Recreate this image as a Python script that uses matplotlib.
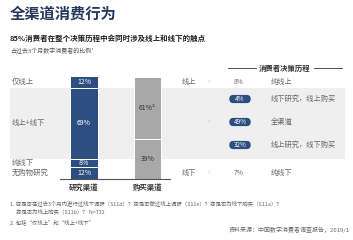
import matplotlib
matplotlib.use('Agg')
import matplotlib.pyplot as plt
from matplotlib.patches import Rectangle, FancyBboxPatch
from matplotlib.transforms import blended_transform_factory

plt.rcParams['font.family'] = ['Noto Sans CJK SC', 'DejaVu Sans']

# 研究渠道 (从下到上)
research_labels = ['无购物研究', '纯线下', '线上+线下', '仅线上']
research_values = [12, 8, 69, 12]
# 购买渠道 (从下到上)
purchase_values = [39, 61]
purchase_texts = ['39%', '61%²']
bar_names = ['研究渠道', '购买渠道']

# 消费者决策历程
journey_labels = ['纯线上', '线下研究，线上购买', '全渠道', '线上研究，线下购买', '纯线下']
journey_values = [8, 4, 49, 32, 7]

blue = '#2c4e80'
grey = '#a8a8a8'
band = '#efefef'
txt = '#666666'
dark = '#333333'

fig = plt.figure(figsize=(3.53, 2.40), dpi=100)
W, H = 353, 240

# overlay in pixel coords
ov = fig.add_axes([0, 0, 1, 1], zorder=0)
ov.set_xlim(0, W)
ov.set_ylim(H, 0)
ov.axis('off')

# bar axes: pixel x 60..170, y 76..179
ax = fig.add_axes([60 / W, (H - 179) / H, 110 / W, 103 / H], zorder=1)
ax.set_facecolor('none')
ax.set_xlim(-0.378, 1.354)
ax.set_ylim(0, sum(research_values))
for s in ['top', 'right', 'left']:
    ax.spines[s].set_visible(False)
ax.spines['bottom'].set_color('#555555')
ax.spines['bottom'].set_linewidth(0.8)
ax.set_yticks([])
ax.set_xticks([0, 1])
ax.set_xticklabels(bar_names, fontsize=5.3, fontweight='bold', color=dark)
ax.tick_params(axis='x', length=0, pad=3)

bw = 0.44
bottom = 0
for lab, v in zip(research_labels, research_values):
    ax.bar(0, v, bw, bottom=bottom, color=blue, edgecolor='white', linewidth=0.7)
    ax.text(0, bottom + v / 2, f'{v}%', ha='center', va='center', color='white', fontsize=5)
    bottom += v
bottom = 0
for v, t in zip(purchase_values, purchase_texts):
    ax.bar(1, v, bw, bottom=bottom, color=grey, edgecolor='white', linewidth=0.7)
    ax.text(1, bottom + v / 2, t, ha='center', va='center', color='#333333', fontsize=5)
    bottom += v

# grey band behind the 线上+线下 segment
tr = blended_transform_factory(ov.transData, ax.transData)
lo = research_values[0] + research_values[1]
hi = lo + research_values[2]
ov.add_patch(Rectangle((10, lo), 335, hi - lo, transform=tr, color=band, lw=0, zorder=0))

# left labels at segment centres
cum = 0
for lab, v in zip(research_labels, research_values):
    ov.text(12, cum + v / 2, lab, transform=tr, ha='left', va='center', fontsize=5.3, color=txt)
    cum += v

# title block
ov.text(10, 14, '全渠道消费行为', fontsize=11, fontweight='bold', color='#24395c', va='center')
ov.text(10, 38, '85%消费者在整个决策历程中会同时涉及线上和线下的触点', fontsize=5.4,
        fontweight='bold', color='#222222', va='center')
ov.text(10, 51, '占过去3个月数字消费者的比例¹', fontsize=4.3, color='#555555',
        va='center', style='italic')

# header of the journey panel
ov.text(285, 68, '消费者决策历程', fontsize=5.3, fontweight='bold', color=dark,
        ha='center', va='center')
ov.plot([228, 256], [68, 68], color=dark, lw=0.6)
ov.plot([314, 342], [68, 68], color=dark, lw=0.6)

row_y = [82, 99, 122, 145, 173]
pill_rows = [1, 2, 3]
for i, (lab, v) in enumerate(zip(journey_labels, journey_values)):
    y = row_y[i]
    if i in pill_rows:
        ov.add_patch(FancyBboxPatch((230, y - 3.4), 20, 6.8,
                                    boxstyle='round,pad=0.7,rounding_size=4',
                                    fc=blue, ec='none', zorder=3))
        ov.text(240, y, f'{v}%', ha='center', va='center', color='white', fontsize=4.6, zorder=4)
    else:
        ov.text(239, y, f'{v}%', ha='center', va='center', color=txt, fontsize=4.8)
    ov.text(271, y, lab, ha='left', va='center', fontsize=5.2, color=txt)

ov.text(182, 82, '线上', ha='left', va='center', fontsize=5.2, color=txt)
ov.text(182, 173, '线下', ha='left', va='center', fontsize=5.2, color=txt)
for y in [82, 122, 173]:
    ov.text(209, y, '›', ha='center', va='center', fontsize=5.5, color='#bbbbbb')

# footnotes
ov.text(10, 203, '1. 您是否在过去3个月内进行过线下调研（S11d）？您是否做过线上调研（S11e）？您是否为线下购买（S11a）？',
        fontsize=3.9, color=txt, va='center')
ov.text(16, 212, '您是否为线上购买（S11b）？ N=732', fontsize=3.9, color=txt, va='center')
ov.text(10, 222, '2. 包括“仅线上”和“线上+线下”', fontsize=3.9, color=txt, va='center')
ov.text(350, 230, '资料来源：中国数字消费者调查报告，2019/1', fontsize=4.3, color=txt,
        ha='right', va='center')

fig.savefig('out.png', dpi=100)
